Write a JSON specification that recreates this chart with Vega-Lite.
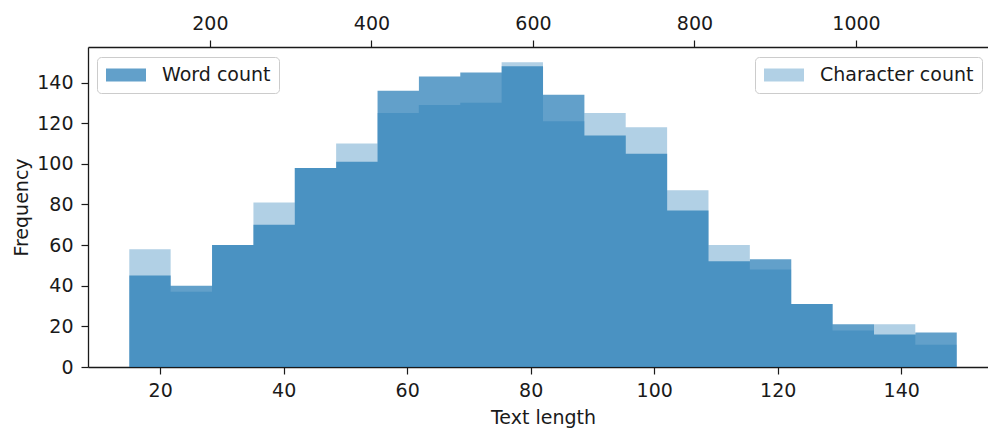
{
  "$schema": "https://vega.github.io/schema/vega-lite/v6.json",
  "width": 900,
  "height": 320,
  "autosize": {"type": "none"},
  "padding": {"left": 88, "top": 47, "right": 0, "bottom": 63},
  "background": "white",
  "config": {
    "view": {"stroke": null},
    "font": "DejaVu Sans",
    "axis": {
      "labelFont": "DejaVu Sans",
      "labelFontSize": 19,
      "labelColor": "#1a1a1a",
      "titleFont": "DejaVu Sans",
      "titleFontSize": 19,
      "titleFontWeight": "normal",
      "titleColor": "#1a1a1a",
      "domainColor": "#1a1a1a",
      "domainWidth": 1.3,
      "tickColor": "#1a1a1a",
      "tickWidth": 1.2,
      "tickSize": 7,
      "labelPadding": 7,
      "grid": false,
      "labelFlush": false,
      "labelOverlap": false
    },
    "legend": {
      "labelFont": "DejaVu Sans",
      "labelFontSize": 19,
      "labelColor": "#1a1a1a"
    }
  },
  "data": {
    "values": [
      {"w0": 15.0, "word": 45, "c0": 100.2, "char": 58},
      {"w0": 21.7, "word": 40, "c0": 151.4, "char": 37},
      {"w0": 28.4, "word": 60, "c0": 202.6, "char": 60},
      {"w0": 35.1, "word": 70, "c0": 253.9, "char": 81},
      {"w0": 41.8, "word": 98, "c0": 305.1, "char": 98},
      {"w0": 48.5, "word": 101, "c0": 356.3, "char": 110},
      {"w0": 55.2, "word": 136, "c0": 407.5, "char": 125},
      {"w0": 61.9, "word": 143, "c0": 458.7, "char": 129},
      {"w0": 68.6, "word": 145, "c0": 510.0, "char": 130},
      {"w0": 75.3, "word": 148, "c0": 561.2, "char": 150},
      {"w0": 82.0, "word": 134, "c0": 612.4, "char": 121},
      {"w0": 88.7, "word": 114, "c0": 663.6, "char": 125},
      {"w0": 95.4, "word": 105, "c0": 714.8, "char": 118},
      {"w0": 102.1, "word": 77, "c0": 766.1, "char": 87},
      {"w0": 108.8, "word": 52, "c0": 817.3, "char": 60},
      {"w0": 115.5, "word": 53, "c0": 868.5, "char": 48},
      {"w0": 122.2, "word": 31, "c0": 919.7, "char": 31},
      {"w0": 128.9, "word": 21, "c0": 970.9, "char": 18},
      {"w0": 135.6, "word": 16, "c0": 1022.2, "char": 21},
      {"w0": 142.3, "word": 17, "c0": 1073.4, "char": 11},
      {"w0": 149.0, "word": 17, "c0": 1124.6, "char": 11}
    ]
  },
  "layer": [
    {
      "mark": {"type": "area", "interpolate": "step-after", "opacity": 0.7},
      "encoding": {
        "x": {
          "field": "w0", "type": "quantitative",
          "scale": {"domain": [8.31, 154.06], "nice": false, "zero": false},
          "axis": {"orient": "bottom", "values": [20, 40, 60, 80, 100, 120, 140], "title": "Text length", "titleX": 455, "titleY": 56, "titleAlign": "center", "titleBaseline": "alphabetic", "titleAnchor": null}
        },
        "y": {
          "field": "word", "type": "quantitative",
          "scale": {"domain": [0, 157.5], "nice": false},
          "axis": {"values": [0, 20, 40, 60, 80, 100, 120, 140], "title": "Frequency", "labelPadding": 8, "titleX": -61, "titleY": 160, "titleAngle": 270, "titleAlign": "center", "titleBaseline": "alphabetic", "titleAnchor": null}
        },
        "y2": {"datum": 0},
        "color": {
          "datum": "Word count",
          "scale": {"domain": ["Word count"], "range": ["#1f77b4"]},
          "legend": {
            "title": null, "orient": "none", "legendX": 9, "legendY": 10,
            "symbolType": "M-2,-0.66H2V0.66H-2Z", "symbolSize": 400, "symbolOffset": 11, "symbolOpacity": 0.7, "symbolStrokeWidth": 0,
            "labelOffset": 26, "padding": 8, "fillColor": "white", "strokeColor": "#cccccc", "cornerRadius": 4
          }
        }
      }
    },
    {
      "mark": {"type": "area", "interpolate": "step-after", "opacity": 0.35},
      "encoding": {
        "x": {
          "field": "c0", "type": "quantitative",
          "scale": {"domain": [49.07, 1163.4], "nice": false, "zero": false},
          "axis": {"orient": "top", "values": [200, 400, 600, 800, 1000], "format": "d", "title": null}
        },
        "y": {"field": "char", "type": "quantitative"},
        "y2": {"datum": 0},
        "color": {
          "datum": "Character count",
          "scale": {"domain": ["Character count"], "range": ["#1f77b4"]},
          "legend": {
            "title": null, "orient": "none", "legendX": 667, "legendY": 10,
            "symbolType": "M-2,-0.66H2V0.66H-2Z", "symbolSize": 400, "symbolOffset": 11, "symbolOpacity": 0.35, "symbolStrokeWidth": 0,
            "labelOffset": 26, "padding": 8, "fillColor": "white", "strokeColor": "#cccccc", "cornerRadius": 4
          }
        }
      }
    }
  ],
  "resolve": {
    "scale": {"x": "independent", "color": "independent"},
    "axis": {"x": "independent"},
    "legend": {"color": "independent"}
  }
}
